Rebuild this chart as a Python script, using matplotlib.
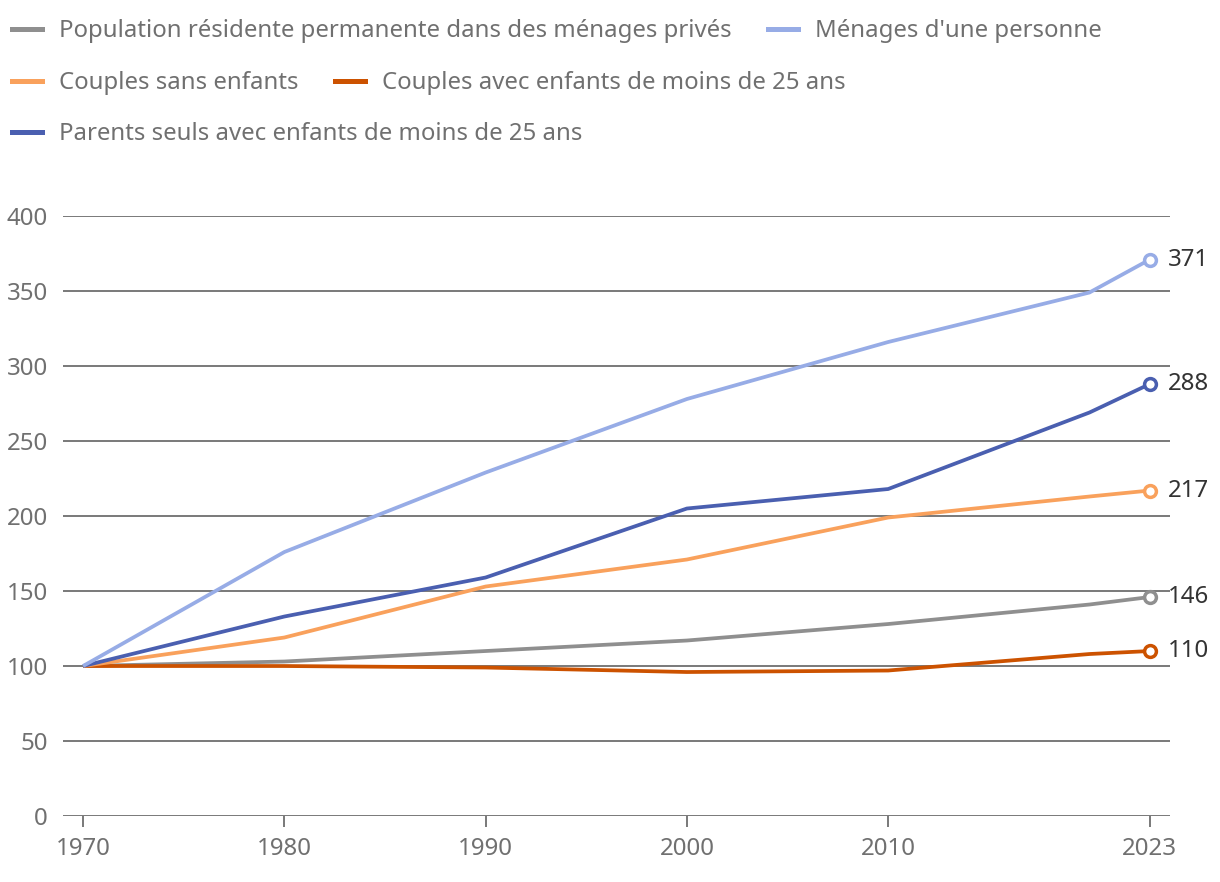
import matplotlib.pyplot as plt
from matplotlib.lines import Line2D

plt.rcParams['font.family'] = ['Noto Sans', 'DejaVu Sans']

years = [1970, 1980, 1990, 2000, 2010, 2020, 2023]
population = [100, 103, 110, 117, 128, 141, 146]
une_personne = [100, 176, 229, 278, 316, 349, 371]
couples_sans = [100, 119, 153, 171, 199, 213, 217]
couples_avec = [100, 100, 99, 96, 97, 108, 110]
parents_seuls = [100, 133, 159, 205, 218, 269, 288]

labels = ["Population résidente permanente dans des ménages privés",
          "Ménages d'une personne",
          "Couples sans enfants",
          "Couples avec enfants de moins de 25 ans",
          "Parents seuls avec enfants de moins de 25 ans"]
colors = ["#8f8f8f", "#97ace6", "#f9a15c", "#cc5200", "#4a5fb0"]
series = [population, une_personne, couples_sans, couples_avec, parents_seuls]

xticks = [1970, 1980, 1990, 2000, 2010, 2023]
yticks = [0, 50, 100, 150, 200, 250, 300, 350, 400]

TXT = "#707070"
GRID = "#6e6e6e"
FS = 17.3
LEG_FS = 17.25

fig = plt.figure(figsize=(12.2, 8.82), dpi=100)
ax = fig.add_axes([0.0516, 0.0748, 0.9074, 0.6803])

for y in yticks:
    ax.axhline(y, color=GRID, lw=1.3, zorder=1)

# draw order: bottom series first
order = [0, 3, 2, 4, 1]
for i in order:
    ax.plot(years, series[i], color=colors[i], lw=2.7, zorder=3, solid_capstyle='butt')
    ax.plot(years[-1], series[i][-1], marker='o', ms=8.5, mfc='white', mec=colors[i],
            mew=2.5, zorder=4)
    ax.annotate(str(series[i][-1]), (years[-1], series[i][-1]), xytext=(13, 0),
                textcoords='offset points', va='center', ha='left',
                fontsize=FS, color='#333333', annotation_clip=False)

ax.set_xlim(1969.0, 2024.0)
ax.set_ylim(0, 400)
ax.set_xticks(xticks)
ax.set_yticks(yticks)
ax.tick_params(axis='x', length=8, width=1.3, color=GRID, labelsize=FS, labelcolor=TXT, pad=7)
ax.tick_params(axis='y', length=0, labelsize=FS, labelcolor=TXT, pad=11)
for s in ax.spines.values():
    s.set_visible(False)

# legend rows (flowing layout)
rows = [[0, 1], [2, 3], [4]]
row_y = [1 - 31 / 882, 1 - 83 / 882, 1 - 134 / 882]
for r, yy in zip(rows, row_y):
    handles = [Line2D([], [], color=colors[i], lw=3.6) for i in r]
    leg = fig.legend(handles, [labels[i] for i in r], loc='center left',
                     bbox_to_anchor=(0.0, yy), ncol=len(r), frameon=False,
                     fontsize=LEG_FS, handlelength=1.25, handletextpad=0.7,
                     columnspacing=1.55, borderaxespad=0, borderpad=0.5)
    for t in leg.get_texts():
        t.set_color(TXT)

fig.savefig("out.png", dpi=100, facecolor='white')
